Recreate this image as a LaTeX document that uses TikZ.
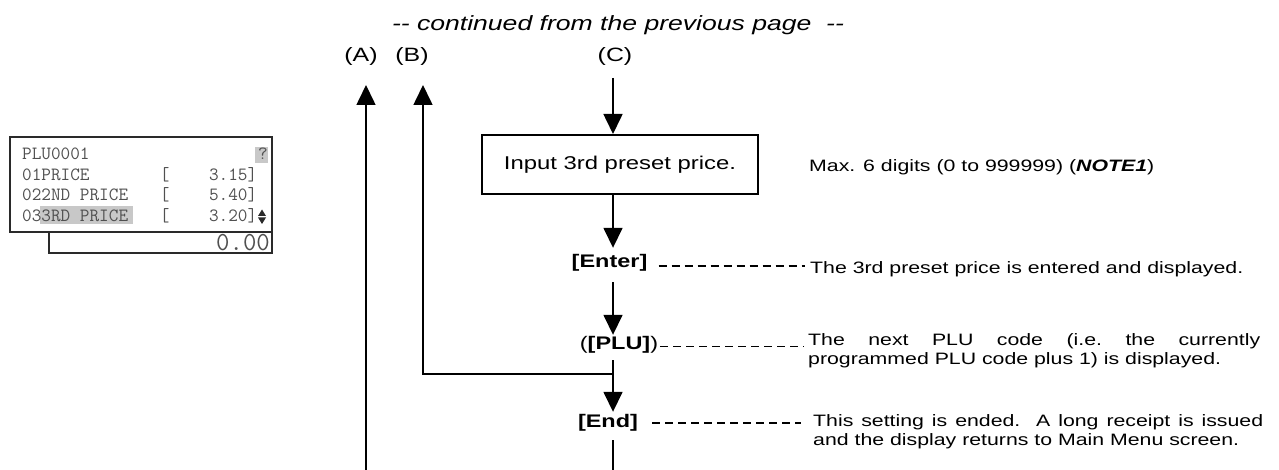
\documentclass[tikz,border=0pt]{standalone}
\usepackage{fontspec}
\usetikzlibrary{arrows.meta}
\newfontfamily\arial{Liberation Sans}[FakeStretch=1.29]
\definecolor{lcdtext}{HTML}{505050}
\definecolor{lcdhl}{HTML}{C8C8C8}
\definecolor{lcdline}{HTML}{2A2A2A}
\begin{document}
\begin{tikzpicture}[x=1pt,y=-1pt,
  conn/.style={line width=1.6pt},
  arr/.style={conn,-{Triangle[width=19pt,length=20pt]}},
  dashline/.style={line width=1.2pt,dash pattern=on 8pt off 5pt},
  titlef/.style={font=\arial\itshape\fontsize{20.6}{24}\selectfont},
  lab/.style={font=\arial\fontsize{19.3}{22}\selectfont},
  boxf/.style={font=\arial\fontsize{18.5}{22}\selectfont},
  keyf/.style={font=\arial\bfseries\fontsize{18.2}{21}\selectfont,inner sep=0pt,text height=13pt,text depth=4pt},
  desc/.style={font=\arial\fontsize{16.5}{19}\selectfont,inner sep=0pt,anchor=base west},
  lcd/.style={font=\ttfamily\fontsize{18.7}{20}\selectfont,text=lcdtext,inner sep=0pt,anchor=base west},
  lcdbig/.style={font=\ttfamily\fontsize{26}{28}\selectfont,text=lcdtext,inner sep=0pt,anchor=base east},
  lcdframe/.style={draw=lcdline,line width=1.6pt}
]
\useasboundingbox (0,0) rectangle (1279,470);

% ---------- LCD inset ----------
\fill[lcdhl] (255,147) rectangle (268,163);
\fill[lcdhl] (40,206) rectangle (133,224);
\draw[lcdframe] (10,137) rectangle (272,232);
\draw[lcdframe] (49,232) -- (49,253) -- (272,253) -- (272,232);
\node[lcd] (r1a) at (22,160) {PLU0001};
\node[lcd] (r1q) at (257.9,160) {?};
\node[lcd] (r2a) at (22,181) {01PRICE};
\node[lcd] (r2b) at (159.6,181) {[};
\node[lcd] (r2c) at (208.8,181) {3.15]};
\node[lcd] (r3a) at (22,201) {022ND PRICE};
\node[lcd] (r3b) at (159.6,201) {[};
\node[lcd] (r3c) at (208.8,201) {5.40]};
\node[lcd] (r4a) at (22,222) {033RD PRICE};
\node[lcd] (r4b) at (159.6,222) {[};
\node[lcd] (r4c) at (208.8,222) {3.20]};
\fill[lcdline] (258,216) -- (266,216) -- (262,209.5) -- cycle;
\fill[lcdline] (258,217.5) -- (266,217.5) -- (262,224) -- cycle;
\node[lcdbig] (total) at (270,251) {0.00};

% ---------- title and labels ----------
\node[titlef,anchor=base] (title) at (618,31) {-- continued from the previous page\ \ --};
\node[lab,anchor=base] (la) at (361,62) {(A)};
\node[lab,anchor=base] (lb) at (412,62) {(B)};
\node[lab,anchor=base] (lc) at (615,62) {(C)};

% ---------- flow ----------
\node[draw,line width=2pt,boxf,minimum width=276pt,minimum height=59pt,inner sep=0pt] (box) at (620,164.5) {Input 3rd preset price.};
\node[keyf] (enter) at (609.5,263) {[Enter]};
\node[keyf] (plu) at (619,345) {{\mdseries(}[PLU]{\mdseries)}};
\node[keyf] (end) at (608,423) {[End]};

\coordinate (atip) at (366,85);
\coordinate (abot) at (366,470);
\coordinate (btip) at (423,85);
\coordinate (ctop) at (613,78);
\coordinate (bj) at (613,374);
\coordinate (mbot) at (613,470);

\draw[arr] (abot) -- (atip);
\draw[arr] (bj) -| (btip);
\draw[arr] (ctop) -- (ctop |- box.north);
\draw[arr] (ctop |- box.south) -- ([yshift=6.5pt]enter.north -| ctop);
\draw[arr] ([yshift=-10.5pt]enter.south -| ctop) -- ([yshift=1.5pt]plu.north -| ctop);
\draw[arr] ([yshift=-6.5pt]plu.south -| ctop) -- ([yshift=2.5pt]end.north -| ctop);
\draw[conn] ([yshift=-8.5pt]end.south -| ctop) -- (mbot);

% ---------- descriptions ----------
\node[desc] (d0) at (809,172) {Max. 6 digits (0 to 999999) (\textbf{\textit{NOTE1}})};
\node[desc] (d1) at (810,273) {The 3rd preset price is entered and displayed.};
\node[desc,text width=452pt,align=justify] (d2) at (808,345) {The next PLU code (i.e.\ the currently\linebreak programmed PLU code plus 1) is displayed.};
\node[desc,text width=450pt,align=justify] (d3) at (813,426) {This setting is ended.\ \ A long receipt is issued\linebreak and the display returns to Main Menu screen.};

\draw[dashline,shorten >=5pt] ([xshift=11pt,yshift=-3pt]enter.east) -- ([yshift=-3pt]enter.east -| d1.west);
\draw[dashline,shorten >=4pt] ([xshift=2pt,yshift=-1.5pt]plu.east) -- ([yshift=-1.5pt]plu.east -| d2.west);
\draw[dashline,shorten >=12pt] ([xshift=14pt]end.east) -- (end.east -| d3.west);
\end{tikzpicture}
\end{document}
